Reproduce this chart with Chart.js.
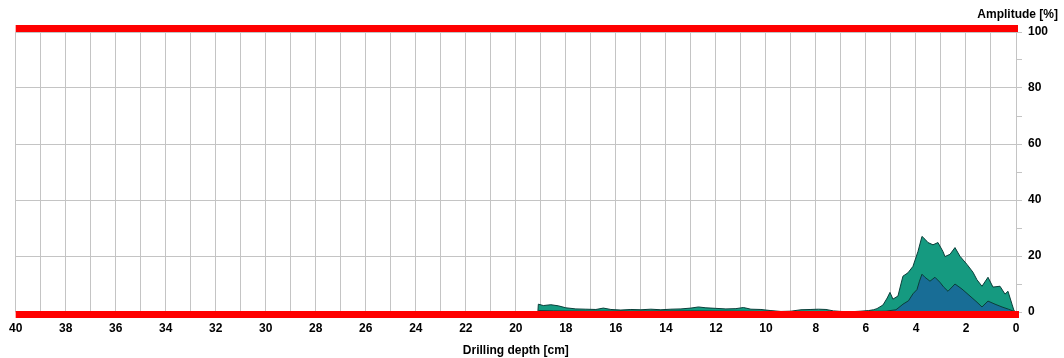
<!DOCTYPE html>
<html>
<head>
<meta charset="UTF-8">
<title>Drilling depth profile</title>
<script src="https://cdn.jsdelivr.net/npm/chart.js"></script>
<style>
    body { margin: 0; padding: 0; background: #fff; }
    #wrap { width: 1064px; height: 358px; }
</style>
</head>
<body>
<div id="wrap"><canvas id="graph" width="1064" height="358"></canvas></div>
<script>
// feed curve (green) - depth in cm / amplitude in %
const feedDepth = [19.12, 19.1, 18.9, 18.6, 18.3, 18.0, 17.6, 17.2, 16.8, 16.5, 16.2, 15.8, 15.4, 15.0, 14.6, 14.2, 13.8, 13.4, 13.0, 12.7, 12.4, 12.0, 11.6, 11.2, 10.9, 10.6, 10.2, 9.8, 9.4, 9.0, 8.6, 8.2, 7.9, 7.6, 7.3, 7.0, 6.6, 6.2, 5.9, 5.7, 5.56, 5.32, 5.15, 5.04, 4.92, 4.72, 4.6, 4.52, 4.32, 4.12, 3.92, 3.76, 3.64, 3.52, 3.32, 3.12, 2.92, 2.84, 2.64, 2.44, 2.24, 1.96, 1.72, 1.56, 1.36, 1.12, 0.92, 0.64, 0.44, 0.32, 0.16, 0.08, 0];
const feedAmp   = [0, 2.8, 2.3, 2.6, 2.2, 1.5, 1.1, 1.0, 0.9, 1.4, 0.9, 0.7, 0.9, 0.8, 1.0, 0.8, 1.0, 1.1, 1.4, 1.8, 1.5, 1.3, 1.1, 1.2, 1.6, 1.0, 0.9, 0.5, 0.2, 0.3, 0.8, 0.9, 1.0, 0.9, 0.4, 0.2, 0.1, 0.3, 0.5, 0.8, 1.2, 2.5, 5, 7, 4.6, 5.7, 10, 12.8, 14, 16.3, 21.6, 27, 26, 24.8, 24, 24.8, 21.6, 19.8, 20.6, 23, 19.9, 17, 14.2, 11.5, 9.2, 12.4, 8.9, 9.2, 6.4, 7.4, 2.8, 0.5, 0];

// drill curve (blue)
const drillDepth = [19.1, 18.5, 17, 15, 13, 11, 9, 7, 5.2, 4.8, 4.6, 4.52, 4.3, 4.12, 3.96, 3.86, 3.76, 3.64, 3.44, 3.24, 3.04, 2.9, 2.72, 2.44, 2.16, 1.84, 1.56, 1.36, 1.12, 0.84, 0.56, 0.3, 0.1, 0];
const drillAmp   = [0.5, 0.4, 0.3, 0.3, 0.4, 0.3, 0.1, 0.1, 0.3, 0.8, 2.2, 2.8, 4, 6.5, 8, 11, 13.5, 12.4, 11, 12.4, 10.6, 9, 7.4, 10, 8.2, 5.7, 3.5, 1.8, 3.9, 2.8, 1.8, 1, 0.3, 0];

const depthMin = 0, depthMax = 40;
const ampMin = 0, ampMax = 100;

function toPoints(xs, ys) {
    return xs.map((x, i) => ({ x: x, y: ys[i] }));
}

const font = { family: 'Liberation Sans, Arial, sans-serif', size: 12, weight: 'bold' };

// red frame bars just outside the 0 and 100 lines + axis caption
const decor = {
    id: 'decor',
    afterDatasetsDraw(chart) {
        const c = chart.ctx, a = chart.chartArea;
        c.save();
        c.fillStyle = '#ff0000';
        c.fillRect(a.left, a.top - 7, a.right - a.left + 2, 7);
        c.fillRect(a.left, a.bottom - 1, a.right - a.left + 3, 7);
        c.restore();
    },
    afterDraw(chart) {
        const c = chart.ctx;
        c.save();
        c.font = 'bold 12px "Liberation Sans", Arial, sans-serif';
        c.fillStyle = '#000';
        c.textAlign = 'right';
        c.textBaseline = 'middle';
        c.fillText('Amplitude [%]', 1058, 15);
        c.restore();
    }
};

new Chart(document.getElementById('graph'), {
    type: 'line',
    data: {
        datasets: [
            { data: toPoints(drillDepth, drillAmp), borderColor: '#0b3f3a', borderWidth: 1, backgroundColor: '#186d96', fill: 'origin', pointRadius: 0, tension: 0 },
            { data: toPoints(feedDepth, feedAmp), borderColor: '#0b3f3a', borderWidth: 1, backgroundColor: '#159a80', fill: 'origin', pointRadius: 0, tension: 0 }
        ]
    },
    options: {
        responsive: false,
        animation: false,
        layout: { padding: { left: 15, top: 32, right: 0, bottom: 0 } },
        plugins: { legend: { display: false }, tooltip: { enabled: false } },
        scales: {
            x: {
                type: 'linear',
                reverse: true,
                min: depthMin,
                max: depthMax,
                afterFit(s) { s.height = 46; },
                grid: { color: '#c4c4c4', drawTicks: false },
                border: { display: false },
                ticks: {
                    stepSize: 1,
                    autoSkip: false,
                    maxRotation: 0,
                    padding: 9,
                    color: '#000',
                    font: font,
                    callback: v => (v % 2 === 0 ? String(v) : '')
                },
                title: { display: true, text: 'Drilling depth [cm]', color: '#000', font: font, padding: { top: 3, bottom: 0 } }
            },
            y: {
                position: 'right',
                min: ampMin,
                max: ampMax,
                afterFit(s) { s.width = 48; },
                grid: {
                    color: c => (c.tick && c.tick.value % 20 === 0 ? '#c4c4c4' : 'rgba(0,0,0,0)'),
                    tickColor: '#c4c4c4',
                    tickLength: 6
                },
                border: { color: '#c4c4c4' },
                ticks: {
                    stepSize: 10,
                    padding: 6,
                    color: '#000',
                    font: font,
                    callback: v => (v % 20 === 0 ? String(v) : '')
                }
            }
        }
    },
    plugins: [decor]
});
</script>
</body>
</html>
